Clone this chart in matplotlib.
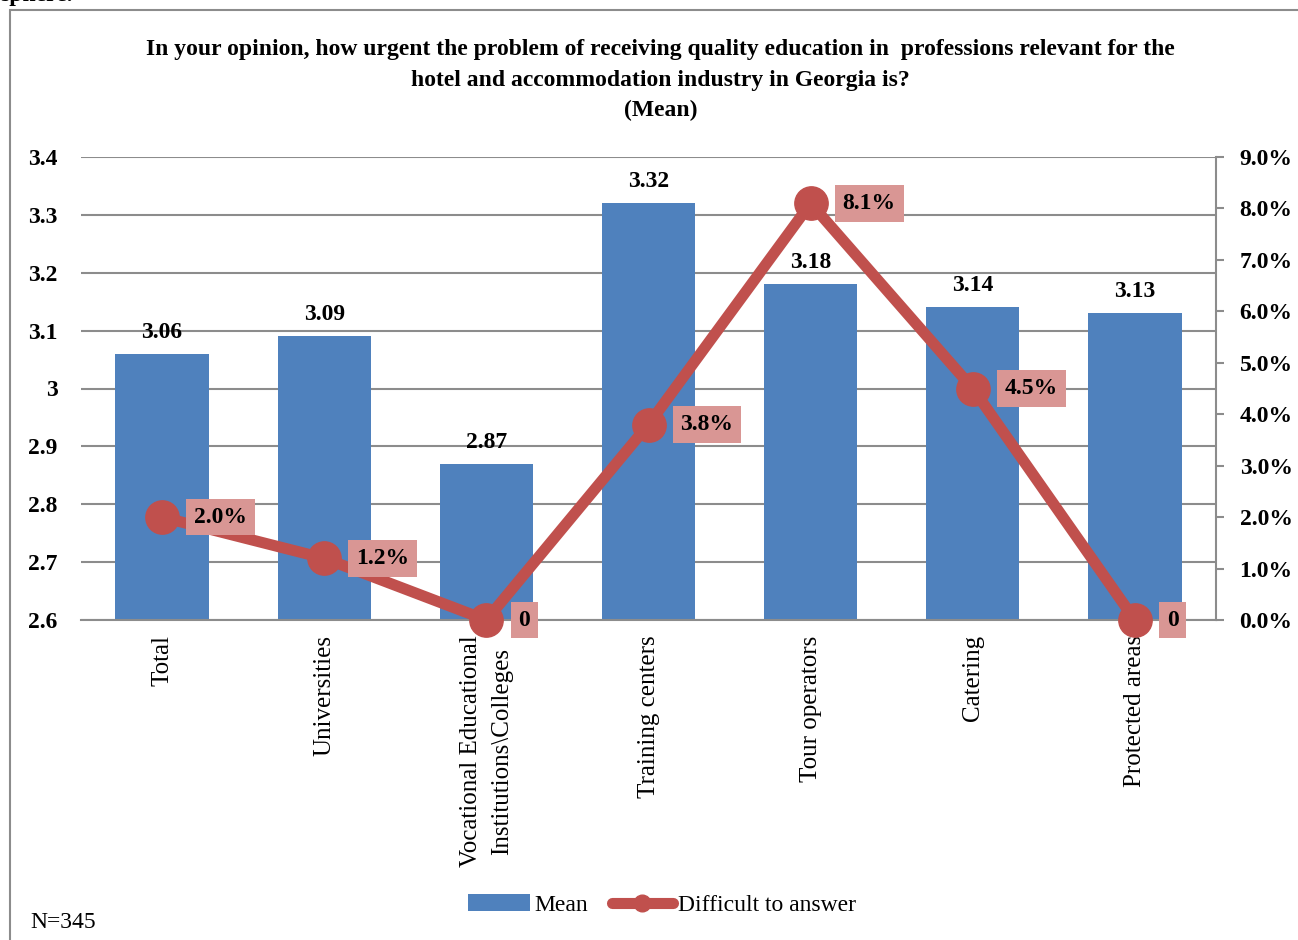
import matplotlib
matplotlib.use("Agg")
import matplotlib.pyplot as plt
from matplotlib.lines import Line2D
from matplotlib.patches import Patch, Rectangle
from matplotlib.ticker import FuncFormatter, MultipleLocator

plt.rcParams['font.family'] = ['Liberation Serif', 'DejaVu Serif']

categories = ["Total", "Universities", "Vocational Educational\nInstitutions\\Colleges",
              "Training centers", "Tour operators", "Catering", "Protected areas"]
mean_values = [3.06, 3.09, 2.87, 3.32, 3.18, 3.14, 3.13]
difficult_pct = [2.0, 1.2, 0.0, 3.8, 8.1, 4.5, 0.0]

title = ("In your opinion, how urgent the problem of receiving quality education in  professions relevant for the\n"
         "hotel and accommodation industry in Georgia is?\n(Mean)")

BAR_COLOR = "#4F81BD"
LINE_COLOR = "#C0504D"
LABEL_BOX = "#D99694"
GRID = "#8C8C8C"
FS = 17

fig = plt.figure(figsize=(12.98, 9.40), dpi=100)

# outer chart frame
fig.patches.append(Rectangle((10 / 1298, -0.01), 1.0, 1 - 10 / 940 + 0.01,
                             transform=fig.transFigure, fill=False,
                             edgecolor="#8C8C8C", linewidth=1.5))
# tail of the preceding paragraph, running off the top edge
fig.text(0.0, 1 - 1 / 940, "sphere.", fontsize=FS, fontweight="bold",
         va="baseline", ha="left")

ax = fig.add_axes([81 / 1298, 1 - 620 / 940, (1216 - 81) / 1298, (620 - 157) / 940])
x = list(range(len(categories)))

ax.bar(x, mean_values, width=0.575, color=BAR_COLOR, zorder=2)
ax.set_ylim(2.6, 3.4)
ax.set_xlim(-0.5, len(categories) - 0.5)
ax.yaxis.set_major_locator(MultipleLocator(0.1))
ax.yaxis.set_major_formatter(FuncFormatter(
    lambda v, p: "3" if abs(v - 3) < 1e-9 else f"{v:.1f}"))
ax.grid(axis="y", color=GRID, linewidth=1.5, zorder=0)
ax.set_axisbelow(True)
for s in ["top", "right", "left"]:
    ax.spines[s].set_visible(False)
ax.spines["bottom"].set_color(GRID)
ax.spines["bottom"].set_linewidth(1.5)
ax.tick_params(axis="y", length=0, pad=17, labelsize=FS)
for t in ax.get_yticklabels():
    t.set_fontweight("bold")
ax.set_xticks(x)
ax.set_xticklabels(categories, rotation=90, fontsize=18, va="top", ha="center",
                   multialignment="center", linespacing=1.5)
ax.tick_params(axis="x", length=0, pad=11)

for xi, v in zip(x, mean_values):
    ax.annotate(f"{v:.2f}", (xi, v), xytext=(0, 8), textcoords="offset points",
                ha="center", va="bottom", fontsize=FS, fontweight="bold")

ax2 = ax.twinx()
ax2.set_ylim(0, 9.0)
ax2.yaxis.set_major_locator(MultipleLocator(1.0))
ax2.yaxis.set_major_formatter(FuncFormatter(lambda v, p: f"{v:.1f}%"))
for s in ["top", "left", "bottom"]:
    ax2.spines[s].set_visible(False)
ax2.spines["right"].set_color(GRID)
ax2.spines["right"].set_linewidth(1.5)
ax2.tick_params(axis="y", direction="out", length=6, width=1.5, color=GRID,
                pad=11, labelsize=FS)
for t in ax2.get_yticklabels():
    t.set_fontweight("bold")

ax2.plot(x, difficult_pct, color=LINE_COLOR, linewidth=8, marker="o",
         markersize=24, solid_capstyle="round", zorder=3, clip_on=False)
for xi, v in zip(x, difficult_pct):
    lab = "0" if v == 0 else f"{v:.1f}%"
    ax2.annotate(lab, (xi, v), xytext=(23, 0), textcoords="offset points",
                 ha="left", va="center", fontsize=FS, fontweight="bold",
                 bbox=dict(boxstyle="square,pad=0.33", facecolor=LABEL_BOX,
                           edgecolor="none"), zorder=4, annotation_clip=False)

fig.text(0.509, 1 - 39 / 940, title, ha="center", va="top", fontsize=FS,
         fontweight="bold", linespacing=1.6)

handles = [Patch(facecolor=BAR_COLOR, edgecolor="none"),
           Line2D([0], [0], color=LINE_COLOR, linewidth=8, marker="o",
                  markersize=12, solid_capstyle="round")]
fig.legend(handles, ["Mean", "Difficult to answer"], loc="center",
           bbox_to_anchor=(0.51, 1 - 905 / 940), ncol=2, frameon=False,
           fontsize=FS, handlelength=2.6, handletextpad=0.2, columnspacing=1.0)

fig.text(30 / 1298, 1 - 922 / 940, "N=345", fontsize=FS, ha="left", va="center")

fig.savefig("out.png", dpi=100)
